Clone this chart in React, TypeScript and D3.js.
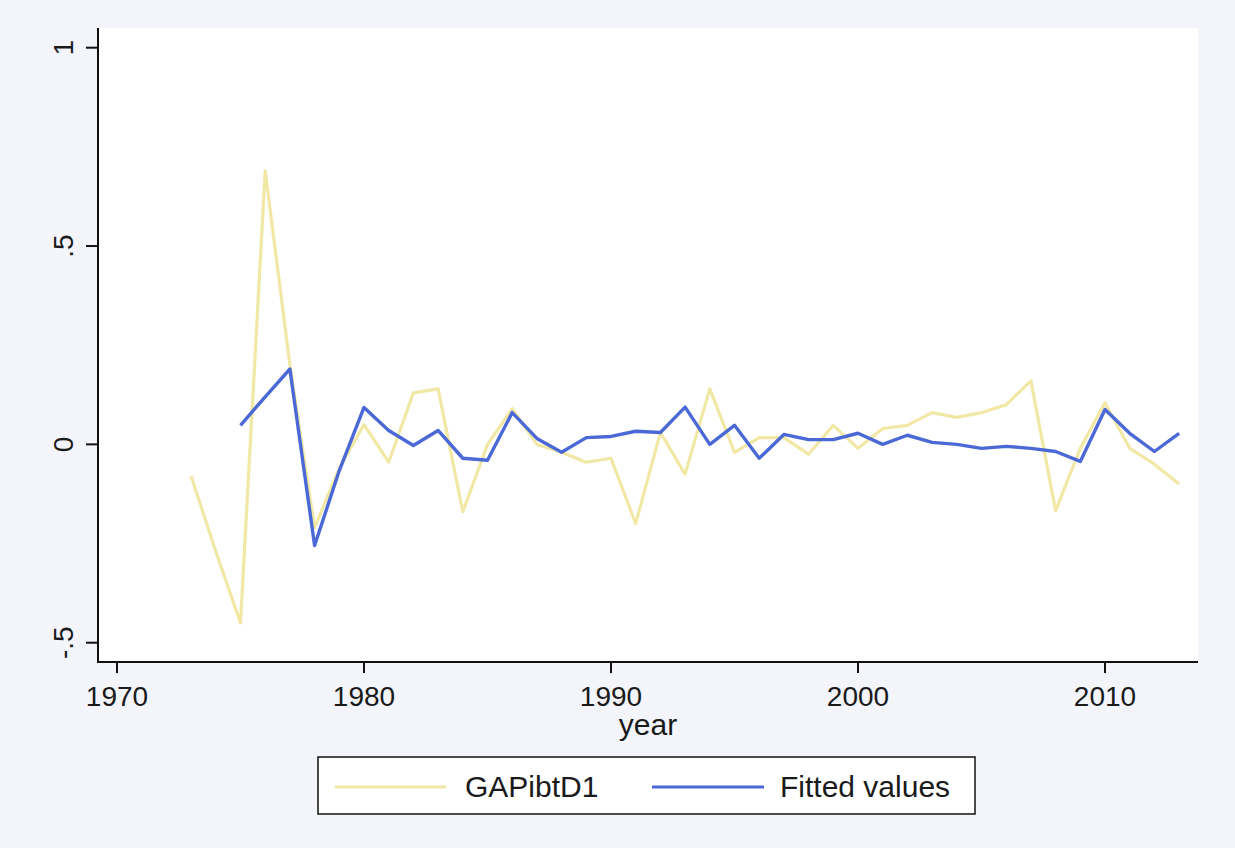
import * as d3 from "d3";
import { useRef, useEffect } from "react";

// GAPibtD1 (observed), 1973-2013
const gapYears = [
  1973, 1974, 1975, 1976, 1977, 1978, 1979, 1980, 1981, 1982, 1983, 1984, 1985, 1986,
  1987, 1988, 1989, 1990, 1991, 1992, 1993, 1994, 1995, 1996, 1997, 1998, 1999, 2000,
  2001, 2002, 2003, 2004, 2005, 2006, 2007, 2008, 2009, 2010, 2011, 2012, 2013,
];
const gapValues = [
  -0.08, -0.27, -0.45, 0.69, 0.2, -0.21, -0.06, 0.05, -0.045, 0.13, 0.14, -0.17, 0.0, 0.09,
  0.0, -0.02, -0.045, -0.035, -0.2, 0.03, -0.075, 0.14, -0.02, 0.017, 0.017, -0.025, 0.048, -0.01,
  0.04, 0.048, 0.08, 0.068, 0.08, 0.1, 0.16, -0.167, -0.01, 0.105, -0.01, -0.05, -0.1,
];

// Fitted values, 1975-2013
const fitYears = gapYears.slice(2);
const fitValues = [
  0.048, 0.12, 0.19, -0.255, -0.066, 0.093, 0.035, -0.003, 0.035, -0.035, -0.04, 0.08,
  0.015, -0.02, 0.017, 0.02, 0.033, 0.03, 0.094, 0.0, 0.048, -0.035, 0.025, 0.012, 0.012,
  0.028, 0.0, 0.023, 0.005, 0.0, -0.01, -0.005, -0.01, -0.018, -0.043, 0.088, 0.028,
  -0.018, 0.028,
];

const xTicks = [1970, 1980, 1990, 2000, 2010];
const yTicks = [-0.5, 0, 0.5, 1];
const yTickLabels = ["-.5", "0", ".5", "1"];
const legendLabels = ["GAPibtD1", "Fitted values"];

const width = 1235;
const height = 848;
const font = "'Liberation Sans', Arial, sans-serif";
const yellow = "#f1e8a6";
const blue = "#4b69d6";

export default function App() {
  const ref = useRef<SVGSVGElement | null>(null);

  useEffect(() => {
    const svg = d3.select(ref.current);
    svg.selectAll("*").remove();

    const x = d3.scaleLinear().domain([1970, 2010]).range([117, 1105]);
    const y = d3.scaleLinear().domain([-0.5, 1]).range([642.7, 47.7]);

    // plot region edges
    const left = 98, right = 1198, top = 28, bottom = 662;

    svg.append("rect").attr("width", width).attr("height", height).attr("fill", "#f3f5fa");
    svg.append("rect")
      .attr("x", left).attr("y", top)
      .attr("width", right - left).attr("height", bottom - top)
      .attr("fill", "#ffffff");

    const line = d3.line<[number, number]>()
      .x(d => x(d[0]))
      .y(d => y(d[1]));

    svg.append("path")
      .datum(gapYears.map((yr, i) => [yr, gapValues[i]] as [number, number]))
      .attr("d", line)
      .attr("fill", "none")
      .attr("stroke", yellow)
      .attr("stroke-width", 3.2)
      .attr("stroke-linejoin", "round");

    svg.append("path")
      .datum(fitYears.map((yr, i) => [yr, fitValues[i]] as [number, number]))
      .attr("d", line)
      .attr("fill", "none")
      .attr("stroke", blue)
      .attr("stroke-width", 3.4)
      .attr("stroke-linejoin", "round");

    // axes
    svg.append("line")
      .attr("x1", left).attr("x2", left).attr("y1", top).attr("y2", bottom + 1)
      .attr("stroke", "#111").attr("stroke-width", 2);
    svg.append("line")
      .attr("x1", left).attr("x2", right).attr("y1", bottom).attr("y2", bottom)
      .attr("stroke", "#111").attr("stroke-width", 2);

    const yg = svg.append("g");
    yTicks.forEach((t, i) => {
      yg.append("line")
        .attr("x1", left - 12).attr("x2", left).attr("y1", y(t)).attr("y2", y(t))
        .attr("stroke", "#111").attr("stroke-width", 2);
      yg.append("text")
        .attr("transform", `translate(73,${y(t)}) rotate(-90)`)
        .attr("text-anchor", "middle")
        .attr("font-family", font)
        .attr("font-size", 28)
        .attr("fill", "#1a1a1a")
        .text(yTickLabels[i]);
    });

    const xg = svg.append("g");
    xTicks.forEach(t => {
      xg.append("line")
        .attr("x1", x(t)).attr("x2", x(t)).attr("y1", bottom).attr("y2", bottom + 11)
        .attr("stroke", "#111").attr("stroke-width", 2);
      xg.append("text")
        .attr("x", x(t)).attr("y", 706)
        .attr("text-anchor", "middle")
        .attr("font-family", font)
        .attr("font-size", 28)
        .attr("fill", "#1a1a1a")
        .text(String(t));
    });

    svg.append("text")
      .attr("x", (left + right) / 2).attr("y", 735)
      .attr("text-anchor", "middle")
      .attr("font-family", font)
      .attr("font-size", 30)
      .attr("fill", "#1a1a1a")
      .text("year");

    // legend
    const lg = svg.append("g");
    lg.append("rect")
      .attr("x", 318).attr("y", 757).attr("width", 657).attr("height", 57)
      .attr("fill", "#ffffff").attr("stroke", "#111").attr("stroke-width", 1.5);
    const items = [
      { x1: 335, x2: 446, tx: 465, color: yellow },
      { x1: 652, x2: 764, tx: 780, color: blue },
    ];
    items.forEach((it, i) => {
      lg.append("line")
        .attr("x1", it.x1).attr("x2", it.x2).attr("y1", 787).attr("y2", 787)
        .attr("stroke", it.color).attr("stroke-width", 3);
      lg.append("text")
        .attr("x", it.tx).attr("y", 797)
        .attr("font-family", font)
        .attr("font-size", 30)
        .attr("fill", "#1a1a1a")
        .text(legendLabels[i]);
    });
  }, []);

  return (
    <svg
      ref={ref}
      width={width}
      height={height}
      style={{ position: "absolute", left: 0, top: 0, display: "block" }}
    />
  );
}
